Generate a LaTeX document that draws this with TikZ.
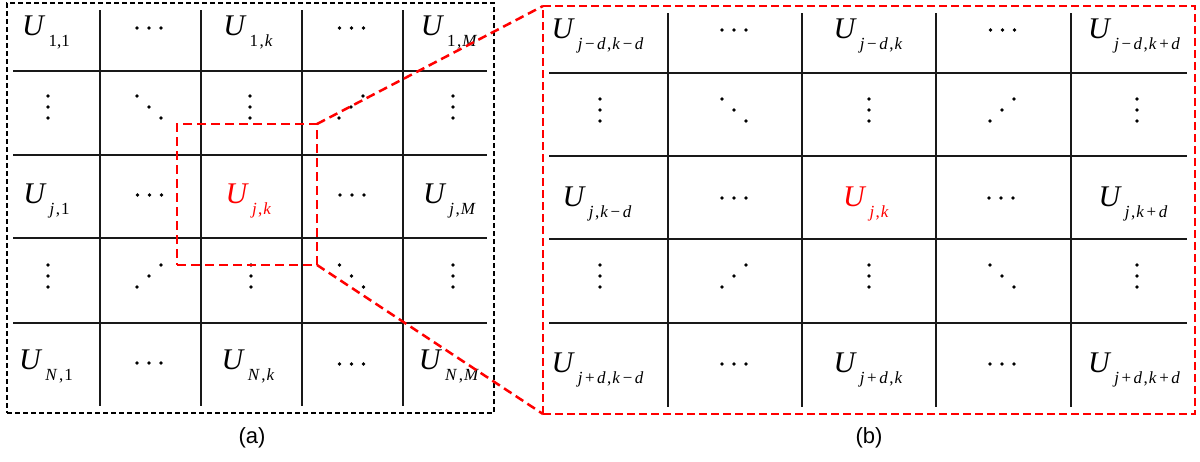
\documentclass[tikz,border=0pt]{standalone}
\usepackage{fontspec}
\setmainfont{Liberation Serif}
\newfontfamily\capsans{Liberation Sans}
\definecolor{zred}{RGB}{255,0,0}
\newcommand\Ulab[1]{\fontsize{30}{30}\selectfont\textit{U}\hspace{3pt}\raisebox{-11pt}{\fontsize{17}{17}\selectfont #1}}
\newcommand\mi[1]{\textit{#1}}
\newcommand\MyMinus{\hspace{2.5pt}−\hspace{2.5pt}}
\newcommand\MyPlus{\hspace{2.5pt}+\hspace{2.5pt}}
\newcommand\MyComma{\hspace{1.5pt},\hspace{1pt}}
\tikzset{
  ulab/.style={anchor=base,inner sep=0pt,outer sep=0pt},
  gridline/.style={line width=1.6pt,black!90},
  blackbox/.style={draw=black,line width=1.6pt,dash pattern=on 5pt off 3pt,inner sep=0pt,outer sep=0pt},
  redbox/.style={draw=zred,line width=2.2pt,dash pattern=on 8pt off 4pt,inner sep=0pt,outer sep=0pt},
  redlink/.style={draw=zred,line width=2.5pt,dash pattern=on 9pt off 5pt},
  caplab/.style={font=\capsans\fontsize{22}{24}\selectfont,inner sep=0pt},
  hd/.pic={\fill (-12,0) circle (1.9) (0,0) circle (1.9) (12,0) circle (1.9);},
  vd/.pic={\fill (0,-11) circle (1.9) (0,0) circle (1.9) (0,11) circle (1.9);},
  dd/.pic={\fill (-12,-11) circle (1.9) (0,0) circle (1.9) (12,11) circle (1.9);},
  ud/.pic={\fill (-12,11) circle (1.9) (0,0) circle (1.9) (12,-11) circle (1.9);}
}
\begin{document}
\begin{tikzpicture}[x=1pt,y=-1pt]
\useasboundingbox (0,0) rectangle (1200,461);
% ---------- left grid ----------
\foreach \y in {71,155,238,323} \draw[gridline] (13,\y) -- (487,\y);
\foreach \x in {100,201,302,403} \draw[gridline] (\x,10) -- (\x,406);
\node[blackbox,minimum width=487pt,minimum height=410pt] (leftbox) at (250.5,208) {};
% row 0
\node[ulab] (a11) at (46,35) {\Ulab{1,1}};
\node[ulab] (a1k) at (248,35) {\Ulab{1\MyComma\mi{k}}};
\node[ulab] (a1M) at (449,35) {\Ulab{1\MyComma\mi{M}}};
\pic at (149,28) {hd}; \pic at (351.5,28) {hd};
% row 1
\pic at (48,107) {vd}; \pic at (149,107) {dd}; \pic at (250,107) {vd};
\pic at (351,107) {ud}; \pic at (453,107) {vd};
% row 2
\node[ulab] (aj1) at (46.5,203) {\Ulab{\mi{j}\MyComma1}};
\node[ulab,text=zred] (ajk) at (248.5,203) {\Ulab{\mi{j}\MyComma\mi{k}}};
\node[ulab] (ajM) at (449.5,203) {\Ulab{\mi{j}\MyComma\mi{M}}};
\pic at (149.5,195) {hd}; \pic at (352,195) {hd};
% row 3
\pic at (48,276) {vd}; \pic at (149,276) {ud}; \pic at (251,276) {vd};
\pic at (351.5,276) {dd}; \pic at (453,276) {vd};
% row 4
\node[ulab] (aN1) at (46,369) {\Ulab{\mi{N}\MyComma1}};
\node[ulab] (aNk) at (248,369) {\Ulab{\mi{N}\MyComma\mi{k}}};
\node[ulab] (aNM) at (449,369) {\Ulab{\mi{N}\MyComma\mi{M}}};
\pic at (149,363) {hd}; \pic at (351.5,364) {hd};
% ---------- right grid ----------
\foreach \y in {73,156,239,323} \draw[gridline] (549,\y) -- (1187,\y);
\foreach \x in {668,802,936,1071} \draw[gridline] (\x,13) -- (\x,407);
\node[redbox,minimum width=652pt,minimum height=408pt] (bigbox) at (869,210) {};
% row 0
\node[ulab] (b00) at (597.5,38) {\Ulab{\mi{j}\MyMinus\mi{d}\MyComma\mi{k}\MyMinus\mi{d}}};
\node[ulab] (b02) at (868,38) {\Ulab{\mi{j}\MyMinus\mi{d}\MyComma\mi{k}}};
\node[ulab] (b04) at (1134,38) {\Ulab{\mi{j}\MyMinus\mi{d}\MyComma\mi{k}\MyPlus\mi{d}}};
\pic at (734,30) {hd}; \pic at (1002.5,30) {hd};
% row 1
\pic at (600,110) {vd}; \pic at (734,110) {dd}; \pic at (869,110) {vd};
\pic at (1002,110) {ud}; \pic at (1137,110) {vd};
% row 2
\node[ulab] (b20) at (597,206) {\Ulab{\mi{j}\MyComma\mi{k}\MyMinus\mi{d}}};
\node[ulab,text=zred] (b22) at (866,206) {\Ulab{\mi{j}\MyComma\mi{k}}};
\node[ulab] (b24) at (1133,206) {\Ulab{\mi{j}\MyComma\mi{k}\MyPlus\mi{d}}};
\pic at (734,198) {hd}; \pic at (1001,198) {hd};
% row 3
\pic at (600,276) {vd}; \pic at (734,276) {ud}; \pic at (869,276) {vd};
\pic at (1002,276) {dd}; \pic at (1137,276) {vd};
% row 4
\node[ulab] (b40) at (597.5,372) {\Ulab{\mi{j}\MyPlus\mi{d}\MyComma\mi{k}\MyMinus\mi{d}}};
\node[ulab] (b42) at (868,372) {\Ulab{\mi{j}\MyPlus\mi{d}\MyComma\mi{k}}};
\node[ulab] (b44) at (1134,372) {\Ulab{\mi{j}\MyPlus\mi{d}\MyComma\mi{k}\MyPlus\mi{d}}};
\pic at (734,364) {hd}; \pic at (1002,364) {hd};
% ---------- zoom window and links ----------
\node[redbox,line width=2.5pt,dash pattern=on 9pt off 5pt,minimum width=140pt,minimum height=141pt] (zoomwin) at (247,194.5) {};
\draw[redlink] (zoomwin.north east) -- (bigbox.north west);
\draw[redlink] (zoomwin.south east) -- (bigbox.south west);
% ---------- captions ----------
\node[caplab] (capa) at (252,438) {(a)};
\node[caplab] (capb) at (869,438) {(b)};
\end{tikzpicture}
\end{document}
